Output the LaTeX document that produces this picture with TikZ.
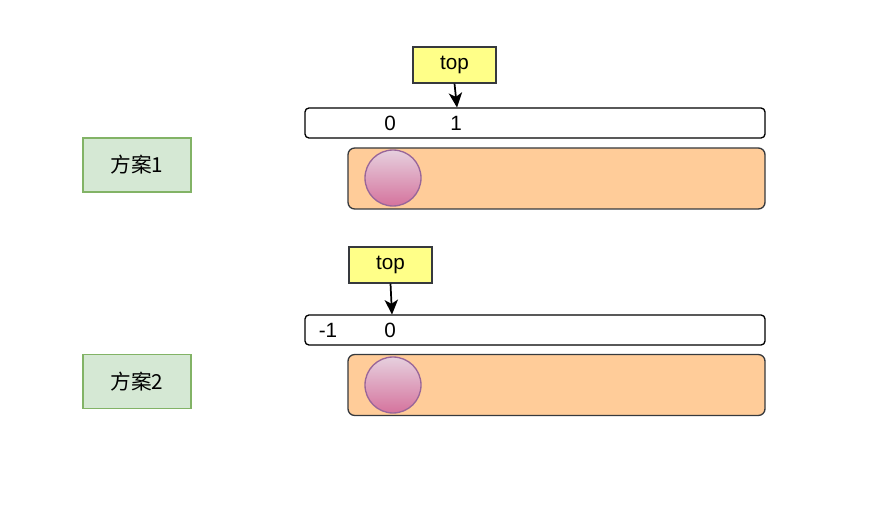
\documentclass[tikz,border=0pt]{standalone}
\usepackage{fontspec}
\setmainfont{Liberation Sans}
\newfontfamily\cjk{Noto Sans CJK SC}
\usepackage{tikz}
\usetikzlibrary{arrows.meta, positioning, calc}
\definecolor{topfill}{HTML}{FFFF88}
\definecolor{darkbd}{HTML}{36393D}
\definecolor{slotfill}{HTML}{FFCC99}
\definecolor{ballhi}{HTML}{E6D0DE}
\definecolor{balllo}{HTML}{D5739D}
\definecolor{ballbd}{HTML}{996699}
\definecolor{planfill}{HTML}{D5E8D4}
\definecolor{planbd}{HTML}{82B366}
\tikzset{
  topbox/.style={draw=darkbd, fill=topfill, minimum width=62.25pt, minimum height=27pt,
    inner sep=0pt, font=\fontsize{15.5}{18}\selectfont, line width=1pt},
  arrbox/.style={draw=black, fill=white, rounded corners=3pt, minimum width=345pt,
    minimum height=22.5pt, inner sep=0pt, line width=1pt},
  slotbox/.style={draw=darkbd, fill=slotfill, rounded corners=5pt, minimum width=312.75pt,
    minimum height=45.75pt, inner sep=0pt, line width=1pt},
  ball/.style={circle, draw=ballbd, top color=ballhi, bottom color=balllo,
    minimum size=42pt, inner sep=0pt, line width=1pt},
  planbox/.style={draw=planbd, fill=planfill, minimum width=81pt, minimum height=40.5pt,
    inner sep=0pt, font=\cjk\fontsize{15.5}{18}\selectfont, line width=1pt},
  idx/.style={inner sep=0pt, font=\fontsize{15.5}{18}\selectfont},
  ptr/.style={-{Stealth[length=11pt, width=10pt, inset=3pt]}, line width=1.3pt}
}
\begin{document}
\begin{tikzpicture}[x=0.75pt, y=-0.75pt]
\useasboundingbox (0,0) rectangle (884,509);
% plan 1
\node[planbox] (plan1) at (137,165) {方案1};
\node[topbox] (top1) at (454.5,65) {top};
\node[arrbox] (arr1) at (535,123) {};
\node[idx] (a1i0) at (390,123) {0};
\node[idx] (a1i1) at (456,123) {1};
\node[slotbox] (slot1) at (556.5,178.5) {};
\node[ball] (ball1) at (393,178) {};
\coordinate (tip1) at (457,107.5);
\draw[ptr] (top1.south) -- (tip1);
% plan 2
\node[planbox] (plan2) at (137,381.5) {方案2};
\node[topbox] (top2) at (390.5,265) {top};
\node[arrbox] (arr2) at (535,330) {};
\node[idx] (a2i0) at (328,330) {-1};
\node[idx] (a2i1) at (390,330) {0};
\node[slotbox] (slot2) at (556.5,385) {};
\node[ball] (ball2) at (393,385) {};
\coordinate (tip2) at (392,314.5);
\draw[ptr] (top2.south) -- (tip2);
\end{tikzpicture}
\end{document}
